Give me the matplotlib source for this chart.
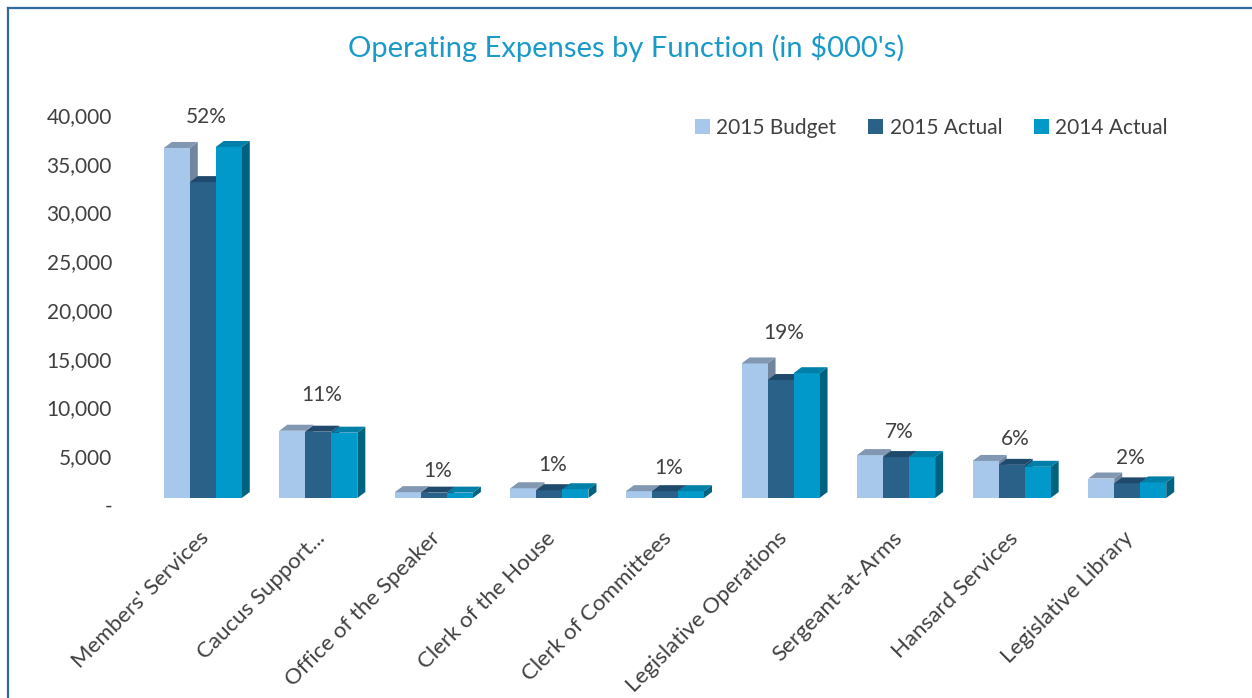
import numpy as np
import matplotlib
matplotlib.use("Agg")
import matplotlib.pyplot as plt
from matplotlib.patches import Polygon, Patch
from matplotlib.lines import Line2D
from matplotlib.transforms import blended_transform_factory, ScaledTranslation

plt.rcParams["font.family"] = ["Lato", "DejaVu Sans"]

# Data ($000's)
categories = ["Members' Services", "Caucus Support...", "Office of the Speaker",
              "Clerk of the House", "Clerk of Committees", "Legislative Operations",
              "Sergeant-at-Arms", "Hansard Services", "Legislative Library"]
budget_2015 = [35900, 6900, 600, 1000, 700, 13800, 4400, 3800, 2000]
actual_2015 = [32400, 6800, 550, 800, 700, 12100, 4200, 3400, 1500]
actual_2014 = [36000, 6700, 550, 900, 700, 12800, 4200, 3200, 1600]
share_labels = ["52%", "11%", "1%", "1%", "1%", "19%", "7%", "6%", "2%"]
share_label_y = [39100, 10600, 2800, 3400, 3100, 16900, 6800, 6100, 4100]

series_names = ["2015 Budget", "2015 Actual", "2014 Actual"]
front_cols = ["#A7C8EA", "#2A6189", "#0099C9"]
top_cols = ["#8197B2", "#1F4A6C", "#0080A8"]
side_cols = ["#71869E", "#1B4262", "#00627F"]
TEXT = "#404040"

W, H = 1252, 698
fig = plt.figure(figsize=(W / 100, H / 100), dpi=100)
ax = fig.add_axes([145 / W, 200 / H, 1040 / W, 409.5 / H])
ax.set_xlim(-0.5, len(categories) - 0.5)
ax.set_ylim(0, 42000)

bw = 0.225
# pseudo-3D depth (converted from pixels to data units)
dx = 8 / 115.6
dy = 6 / 409.5 * 42000

x = np.arange(len(categories))
allvals = [budget_2015, actual_2015, actual_2014]
z = 2
for i in range(len(categories)):
    for s in range(3):
        h = allvals[s][i]
        x0 = x[i] + (s - 1.5) * bw
        x1 = x0 + bw
        ax.bar(x0, h, width=bw, align="edge", color=front_cols[s], lw=0, zorder=z)
        ax.add_patch(Polygon([(x0, h), (x1, h), (x1 + dx, h + dy), (x0 + dx, h + dy)],
                             closed=True, color=top_cols[s], lw=0, zorder=z))
        ax.add_patch(Polygon([(x1, 0), (x1 + dx, dy), (x1 + dx, h + dy), (x1, h)],
                             closed=True, color=side_cols[s], lw=0, zorder=z - 0.5))
        z += 1

for i, lab in enumerate(share_labels):
    ax.text(x[i] + 0.03, share_label_y[i], lab, ha="center", va="center",
            fontsize=15, color=TEXT, zorder=100)

for sp in ax.spines.values():
    sp.set_visible(False)
ax.set_xticks([])
ax.set_yticks([])

# y axis labels (drawn slightly below their levels, as in the original)
ytr = blended_transform_factory(ax.transAxes, ax.transData) + \
    ScaledTranslation(-33 / 100, -9 / 100, fig.dpi_scale_trans)
for v in range(0, 40001, 5000):
    ax.text(0, v, f"{v:,}" if v else "-", transform=ytr, ha="right", va="center",
            fontsize=15, color=TEXT)

# category labels
xtr = blended_transform_factory(ax.transData, ax.transAxes) + \
    ScaledTranslation(-4 / 100, -30 / 100, fig.dpi_scale_trans)
for i, c in enumerate(categories):
    ax.text(x[i], 0, c, transform=xtr, rotation=45, rotation_mode="anchor",
            ha="right", va="top", fontsize=16, color=TEXT)

fig.text(0.5, 1 - 48 / H, "Operating Expenses by Function (in $000's)",
         ha="center", va="center", fontsize=21, color="#1A9AC9")

handles = [Patch(facecolor=c, edgecolor="none") for c in front_cols]
fig.legend(handles, series_names, loc="center right", bbox_to_anchor=(1168 / W, 1 - 128 / H),
           ncol=3, frameon=False, fontsize=15, handlelength=0.75, handleheight=0.75,
           handletextpad=0.3, columnspacing=1.5, borderpad=0, borderaxespad=0,
           labelcolor=TEXT)

# outer frame (left and top edges)
fig.add_artist(Line2D([7.5 / W, 7.5 / W], [0, 1 - 8 / H], transform=fig.transFigure,
                      color="#2F6B9C", lw=1.6))
fig.add_artist(Line2D([7.5 / W, 1], [1 - 8 / H, 1 - 8 / H], transform=fig.transFigure,
                      color="#2F6B9C", lw=1.6))

fig.savefig("out.png", dpi=100)
